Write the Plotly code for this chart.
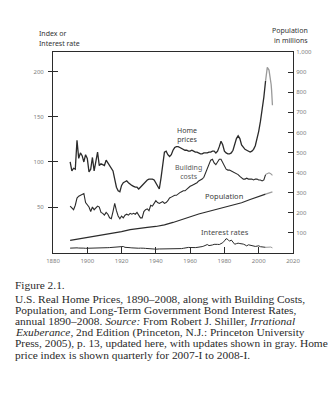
import plotly.graph_objects as go

# ---------------- data ----------------
home_years = list(range(1890, 2007)) + [2007.0, 2007.25, 2007.5, 2007.75, 2008.0]
home_vals = [
    100, 90, 93, 92, 124, 104, 110, 107, 100, 108,   # 1890-1899
    104, 89, 92, 105, 90, 103, 111, 96, 98, 97,      # 1900-1909
    96, 102, 99, 96, 94, 90, 81, 72, 68, 67,         # 1910-1919
    74, 77, 78, 79, 77, 75, 74, 73, 72, 72,          # 1920-1929
    70, 72, 74, 77, 79, 80, 81, 81, 81, 80,          # 1930-1939
    77, 74, 70, 82, 100, 111, 112, 108, 106, 108,    # 1940-1949
    113, 116, 117, 117, 116, 115, 114, 113, 113, 112,  # 1950-1959
    112, 113, 112, 111, 111, 110, 109, 109, 110, 110,  # 1960-1969
    110, 111, 111, 112, 112, 110, 112, 117, 123, 119,  # 1970-1979
    112, 110, 109, 109, 110, 113, 119, 126, 129, 126,  # 1980-1989
    119, 116, 114, 113, 112, 111, 112, 114, 118, 125,  # 1990-1999
    134, 145, 157, 172, 190, 205, 202,                 # 2000-2006
    192, 186, 180, 172, 163,                           # 2007-I .. 2008-I
]

build_years = list(range(1890, 2009))
build_vals = [
    51, 49, 47, 52, 60, 62, 63, 64, 65, 55,          # 1890-1899
    53, 50, 45, 50, 47, 49, 51, 50, 44, 43,          # 1900-1909
    41, 44, 42, 38, 37, 45, 54, 46, 40, 37,          # 1910-1919
    40, 38, 41, 42, 41, 43, 42, 43, 42, 44,          # 1920-1929
    41, 38, 38, 45, 47, 48, 46, 52, 51, 54,          # 1930-1939
    57, 55, 54, 55, 56, 54, 55, 57, 60, 61,          # 1940-1949
    62, 63, 63, 65, 66, 67, 68, 68, 70, 71,          # 1950-1959
    73, 74, 75, 76, 77, 79, 80, 81, 83, 88,          # 1960-1969
    92, 99, 102, 103, 99, 97, 100, 103, 103, 99,     # 1970-1979
    95, 92, 91, 91, 90, 89, 88, 87, 86, 84,          # 1980-1989
    82, 81, 81, 82, 81, 81, 81, 80, 81, 81,          # 1990-1999
    80, 80, 79, 80, 86, 87, 88, 87, 85,              # 2000-2008
]

pop_years = [1890, 1895, 1900, 1905, 1910, 1915, 1920, 1925, 1930, 1935, 1940,
             1945, 1950, 1955, 1960, 1965, 1970, 1975, 1980, 1985, 1990, 1995,
             2000, 2004, 2008]
pop_vals = [63, 70, 76, 84, 92, 100, 106, 116, 123, 127, 132,
            140, 152, 166, 181, 194, 205, 216, 227, 238, 250, 266,
            282, 293, 304]

rate_years = list(range(1890, 2009))
rate_vals = [
    4.4, 4.6, 4.6, 4.7, 4.7, 4.5, 4.7, 4.5, 4.4, 4.2,  # 1890-1899
    4.2, 4.1, 4.2, 4.4, 4.5, 4.4, 4.6, 4.8, 4.8, 4.6,  # 1900-1909
    4.8, 4.9, 4.9, 5.0, 5.2, 5.2, 5.1, 5.4, 5.8, 5.7,  # 1910-1919
    6.5, 6.2, 5.3, 5.4, 5.1, 4.9, 4.7, 4.4, 4.4, 4.6,  # 1920-1929
    4.3, 4.4, 4.7, 4.3, 4.1, 3.8, 3.7, 3.7, 3.6, 3.4,  # 1930-1939
    3.2, 3.0, 3.5, 3.5, 3.5, 3.4, 3.2, 3.3, 3.5, 3.3,  # 1940-1949
    3.4, 3.6, 3.7, 4.0, 3.6, 3.9, 4.2, 4.7, 4.4, 5.2,  # 1950-1959
    5.1, 4.9, 5.0, 5.0, 5.2, 5.3, 5.9, 6.1, 6.7, 7.7,  # 1960-1969
    8.4, 7.2, 7.2, 7.9, 8.6, 9.0, 8.6, 8.4, 9.4, 10.4,  # 1970-1979
    12.4, 14.9, 14.0, 12.1, 13.4, 11.6, 8.7, 9.4, 9.9, 9.5,  # 1980-1989
    9.6, 8.9, 8.0, 6.9, 8.1, 7.6, 7.4, 7.4, 6.3, 6.6,  # 1990-1999
    7.0, 6.0, 5.6, 5.0, 5.3, 5.3, 5.8, 5.6, 4.7,       # 2000-2008
]

UPDATE_FROM = 2004  # values from here on are the gray "updates"

x_ticks = [1880, 1900, 1920, 1940, 1960, 1980, 2000, 2020]
left_ticks = [50, 100, 150, 200]
right_ticks = [100, 200, 300, 400, 500, 600, 700, 800, 900, 1000]
right_tick_text = ["100", "200", "300", "400", "500", "600", "700", "800", "900", "1,000"]

caption_lines = [
    "Figure 2.1.",
    "U.S. Real Home Prices, 1890\u20132008, along with Building Costs,",
    "Population, and Long-Term Government Bond Interest Rates,",
    "annual 1890\u20132008. <i>Source:</i> From Robert J. Shiller, <i>Irrational</i>",
    "<i>Exuberance,</i> 2nd Edition (Princeton, N.J.: Princeton University",
    "Press, 2005), p. 13, updated here, with updates shown in gray. Home",
    "price index is shown quarterly for 2007-I to 2008-I.",
]

# ---------------- figure ----------------
W, H = 334, 400
ML, MR, MT, MB = 53, 41, 52, 147
DARK = "#2b2b2b"
GRAY = "#9a9a9a"


def split(xs, ys):
    a = [(x, y) for x, y in zip(xs, ys) if x <= UPDATE_FROM]
    b = [(x, y) for x, y in zip(xs, ys) if x >= UPDATE_FROM]
    return ([p[0] for p in a], [p[1] for p in a]), ([p[0] for p in b], [p[1] for p in b])


fig = go.Figure()


def add_series(xs, ys, axis, width):
    old, new = split(xs, ys)
    fig.add_trace(go.Scatter(x=old[0], y=old[1], mode="lines", yaxis=axis,
                             line=dict(color=DARK, width=width), showlegend=False,
                             hoverinfo="skip"))
    fig.add_trace(go.Scatter(x=new[0], y=new[1], mode="lines", yaxis=axis,
                             line=dict(color=GRAY, width=width), showlegend=False,
                             hoverinfo="skip"))


add_series(home_years, home_vals, "y", 1.3)
add_series(build_years, build_vals, "y", 1.1)
add_series(rate_years, rate_vals, "y", 1.0)
add_series(pop_years, pop_vals, "y2", 1.2)
# helper trace so the inner tick axis is drawn
fig.add_trace(go.Scatter(x=[None], y=[None], yaxis="y3", showlegend=False, hoverinfo="skip"))

tick_font = dict(family="Noto Sans", size=6, color="#808080")
LEFT_RANGE = [-1, 222]

fig.update_layout(
    width=W, height=H,
    margin=dict(l=ML, r=MR, t=MT, b=MB, pad=0),
    paper_bgcolor="white", plot_bgcolor="white",
    xaxis=dict(range=[1880, 2020], tickvals=x_ticks, ticktext=[str(v) for v in x_ticks],
               ticks="inside", ticklen=6, tickcolor=DARK, tickwidth=1,
               showline=True, mirror=True, linecolor=DARK, linewidth=1,
               showgrid=False, zeroline=False, tickfont=tick_font,
               ticklabelstandoff=2),
    yaxis=dict(range=LEFT_RANGE, tickvals=left_ticks, ticks="outside", ticklen=4,
               tickcolor=DARK, tickwidth=1, showline=True, linecolor=DARK, linewidth=1,
               showgrid=False, zeroline=False, tickfont=tick_font, ticklabelstandoff=3),
    yaxis3=dict(range=LEFT_RANGE, tickvals=left_ticks, ticks="inside", ticklen=5,
                tickcolor=DARK, tickwidth=1, showticklabels=False, showline=False,
                showgrid=False, zeroline=False, overlaying="y", side="left"),
    yaxis2=dict(range=[0, 1000], tickvals=right_ticks, ticktext=right_tick_text,
                ticks="inside", ticklen=5, tickcolor=DARK, tickwidth=1,
                showline=True, linecolor=DARK, linewidth=1, overlaying="y", side="right",
                showgrid=False, zeroline=False, tickfont=tick_font, ticklabelstandoff=1),
)


def pxx(p):
    return (p - ML) / (W - ML - MR)


def pxy(p):
    return (H - MB - p) / (H - MT - MB)


sans = "Noto Sans"
anns = []


def ann(text, x, y, size, color, family, xanchor="left", xref="paper", yref="paper"):
    anns.append(dict(text=text, x=x, y=y, xref=xref, yref=yref, showarrow=False,
                     xanchor=xanchor, yanchor="middle", align="center",
                     font=dict(size=size, color=color, family=family)))


# axis titles
ann("Index or", pxx(37), pxy(34), 7, "#333333", sans)
ann("Interest rate", pxx(37), pxy(43), 7, "#333333", sans)
ann("Population", pxx(310), pxy(31), 7, "#333333", sans, xanchor="right")
ann("in millions", pxx(310), pxy(41), 7, "#333333", sans, xanchor="right")

# series labels (data coordinates)
lab = "#3a3a3a"
ann("Home<br>prices", 1958.3, 129.5, 7, lab, sans, xanchor="center", xref="x", yref="y")
ann("Building<br>costs", 1959.3, 88.5, 7, "#5a5a5a", sans, xanchor="center", xref="x", yref="y")
ann("Population", 1980.3, 62, 7.5, lab, sans, xanchor="center", xref="x", yref="y")
ann("Interest rates", 1980.6, 22, 7.5, "#4a4a4a", sans, xanchor="center", xref="x", yref="y")

# caption
serif = "Liberation Serif"
cap_y = [284.5, 298.5, 309.5, 320.5, 332, 343, 354.5]
for line, yy in zip(caption_lines, cap_y):
    ann(line, pxx(13), pxy(yy), 11.4, "#2a2a2a", serif)

fig.update_layout(annotations=anns)
fig.write_html("out.html")
